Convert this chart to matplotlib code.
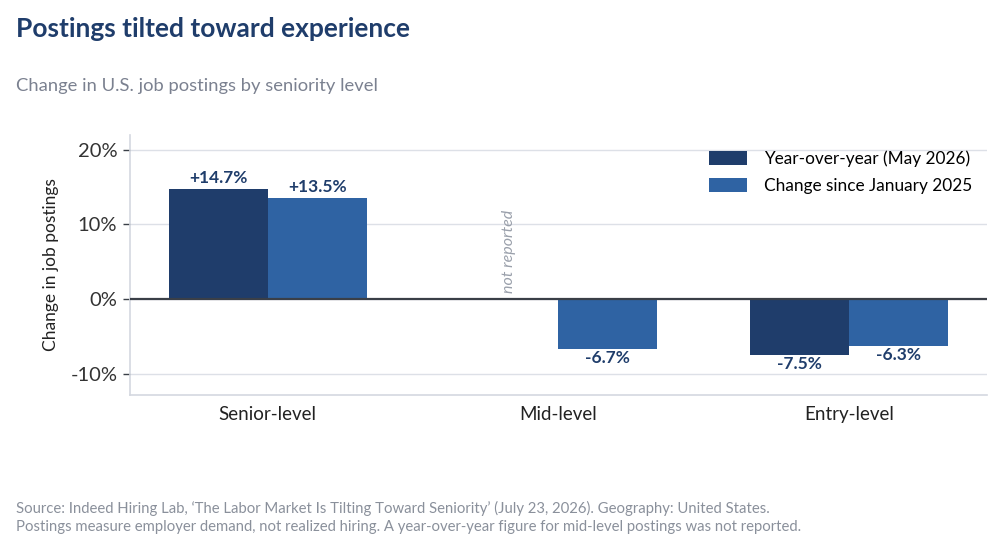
import numpy as np
import matplotlib.pyplot as plt

plt.rcParams['font.family'] = ['Lato', 'DejaVu Sans']

categories = ['Senior-level', 'Mid-level', 'Entry-level']
yoy = [14.7, np.nan, -7.5]           # year-over-year (May 2026), mid not reported
since_jan = [13.5, -6.7, -6.3]       # change since January 2025
series_names = ['Year-over-year (May 2026)', 'Change since January 2025']
yticks = [-10, 0, 10, 20]

dark = '#1f3d6b'
light = '#2f63a3'
grey_txt = '#7b8190'

fig = plt.figure(figsize=(10.06, 5.56), dpi=100)
ax = fig.add_axes([0.129, 0.29, 0.852, 0.468])

x = np.arange(len(categories))
w = 0.34
b1 = ax.bar(x - w/2, yoy, w, color=dark, label=series_names[0], zorder=3)
b2 = ax.bar(x + w/2, since_jan, w, color=light, label=series_names[1], zorder=3)

# value labels
for xs, vals in [(x - w/2, yoy), (x + w/2, since_jan)]:
    for xi, v in zip(xs, vals):
        if np.isnan(v):
            ax.text(xi, 0.8, 'not reported', rotation=90, ha='center', va='bottom',
                    fontsize=11.5, style='italic', color='#9aa0ab', zorder=4)
            continue
        txt = ('+%.1f%%' % v) if v > 0 else ('%.1f%%' % v)
        if v > 0:
            ax.text(xi, v + 0.4, txt, ha='center', va='bottom', fontsize=12.5,
                    fontweight='bold', color=dark, zorder=4)
        else:
            ax.text(xi, v - 0.1, txt, ha='center', va='top', fontsize=12.5,
                    fontweight='bold', color=dark, zorder=4)

ax.axhline(0, color='#3a3f47', lw=1.6, zorder=4)
ax.set_ylim(-12.8, 22)
ax.set_xlim(-0.475, 2.475)
ax.set_yticks(yticks)
ax.set_yticklabels(['%d%%' % t for t in yticks])
ax.set_xticks(x)
ax.set_xticklabels(categories)
ax.grid(axis='y', color='#dde0e7', lw=1, zorder=0)
ax.set_axisbelow(True)

for s in ['top', 'right']:
    ax.spines[s].set_visible(False)
for s in ['left', 'bottom']:
    ax.spines[s].set_color('#d4d8e0')
    ax.spines[s].set_linewidth(1.2)

ax.tick_params(axis='y', labelsize=14.5, colors='#333333', length=5, width=1, pad=4)
ax.tick_params(axis='y', color='#3a3f47')
ax.tick_params(axis='x', labelsize=13.5, length=0, pad=8, labelcolor='#222222')
ax.set_ylabel('Change in job postings', fontsize=12.5, color='#222222', labelpad=8)

leg = ax.legend(loc='upper right', frameon=False, fontsize=12.4, handlelength=2.2,
                handleheight=0.9, handletextpad=1.0, borderaxespad=0.2,
                labelspacing=0.65, bbox_to_anchor=(0.995, 0.98))

fig.text(0.016, 0.948, 'Postings tilted toward experience', fontsize=19,
         fontweight='bold', color=dark, va='center')
fig.text(0.016, 0.845, 'Change in U.S. job postings by seniority level',
         fontsize=13.2, color=grey_txt, va='center')
fig.text(0.016, 0.085,
         "Source: Indeed Hiring Lab, \u2018The Labor Market Is Tilting Toward Seniority\u2019 (July 23, 2026). Geography: United States.",
         fontsize=10.7, color='#8a909b', va='center')
fig.text(0.016, 0.052,
         'Postings measure employer demand, not realized hiring. A year-over-year figure for mid-level postings was not reported.',
         fontsize=10.7, color='#8a909b', va='center')

fig.savefig('out.png', dpi=100)
